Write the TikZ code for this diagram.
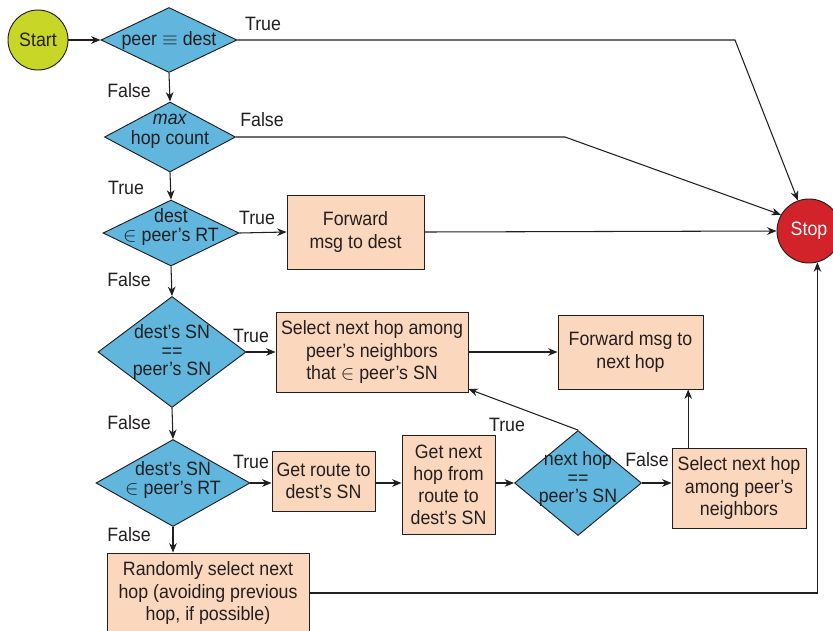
\documentclass[tikz,border=0pt]{standalone}
\usepackage{fontspec}
\setmainfont{Liberation Sans}[FakeStretch=0.92]
\usepackage{xcolor}
\usetikzlibrary{arrows.meta, shapes.geometric, calc, positioning}

\definecolor{ink}{RGB}{35,31,32}
\definecolor{decblue}{RGB}{97,182,222}
\definecolor{actpeach}{RGB}{251,215,190}
\definecolor{startgreen}{RGB}{200,214,40}
\definecolor{stopred}{RGB}{210,35,42}

\newcommand{\pxu}{0.03cm}

\tikzset{
  dec/.style={diamond, draw=ink, fill=decblue, line width=0.8pt, inner sep=0pt},
  act/.style={rectangle, draw=ink, fill=actpeach, line width=0.8pt, inner sep=0pt,
    align=center, font=\fontsize{16.5}{18.8}\selectfont},
  term/.style={circle, draw=ink, line width=0.8pt, inner sep=0pt},
  cond/.style={inner sep=0pt},
  arr/.style={draw=ink, line width=0.9pt, -{Stealth[length=8pt, width=6.5pt, inset=2.5pt]}}
}

\begin{document}
\begin{tikzpicture}[x=0.03cm, y=-0.03cm, font=\fontsize{16.5}{17}\selectfont, text=ink]
    \useasboundingbox (0,0) rectangle (833,630);

    \node[term, fill=startgreen, minimum size=60*\pxu] (start) at (38,40) {Start};
    \node[term, fill=stopred, text=white, minimum size=64*\pxu] (stop) at (809,231) {Stop};

    \node[dec, minimum width=136*\pxu, minimum height=65*\pxu, label=center:{peer $\equiv$ dest}] (same) at (169,40) {};
    \node[dec, minimum width=131*\pxu, minimum height=70*\pxu, label={[align=center, yshift=6*\pxu]center:{\textit{max}\\hop count}}] (maxhop) at (170,137) {};
    \node[dec, minimum width=136*\pxu, minimum height=66*\pxu, label={[align=center, yshift=6*\pxu]center:{dest\\$\in$ peer’s RT}}] (inrt) at (171,233) {};
    \node[dec, minimum width=148*\pxu, minimum height=111*\pxu, label={[align=center]center:{dest’s SN\\[-1pt]==\\[-1pt]peer’s SN}}] (samesn) at (172,352) {};
    \node[dec, minimum width=154*\pxu, minimum height=87*\pxu, label={[align=center, yshift=3*\pxu]center:{dest’s SN\\$\in$ peer’s RT}}] (snrt) at (173,483) {};
    \node[dec, minimum width=127*\pxu, minimum height=105*\pxu, label={[align=center, yshift=4*\pxu]center:{next hop\\[-1pt]==\\[-1pt]peer’s SN}}] (hopsn) at (578,483) {};

    \node[act, minimum width=137*\pxu, minimum height=74*\pxu] (fwddest) at (355.5,232) {Forward\\msg to dest};
    \node[act, minimum width=192*\pxu, minimum height=80*\pxu] (selsn) at (372,352) {Select next hop among\\peer’s neighbors\\that $\in$ peer’s SN};
    \node[act, minimum width=145*\pxu, minimum height=74*\pxu] (fwdnext) at (630.5,352) {Forward msg to\\next hop};
    \node[act, minimum width=134*\pxu, minimum height=80*\pxu] (selnbr) at (739,488) {Select next hop\\among peer’s\\neighbors};
    \node[act, minimum width=103*\pxu, minimum height=60*\pxu] (getroute) at (323.5,481) {Get route to\\dest’s SN};
    \node[act, minimum width=93*\pxu, minimum height=99*\pxu] (gethop) at (448.5,484.5) {Get next\\hop from\\route to\\dest’s SN};
    \node[act, minimum width=202*\pxu, minimum height=80*\pxu] (rnd) at (208,593) {Randomly select next\\hop (avoiding previous\\hop, if possible)};

    \coordinate (bendA) at (735,40);
    \coordinate (bendB) at (565,137);

    % conditions
    \node[cond] (c1) at (263,24) {True};
    \node[cond] (c2) at (129,91) {False};
    \node[cond] (c3) at (262,120) {False};
    \node[cond] (c4) at (126,188) {True};
    \node[cond] (c5) at (257,218) {True};
    \node[cond] (c6) at (129,280) {False};
    \node[cond] (c7) at (251,336) {True};
    \node[cond] (c8) at (129,423) {False};
    \node[cond] (c9) at (251,462) {True};
    \node[cond] (c10) at (129,535) {False};
    \node[cond] (c11) at (507,425) {True};
    \node[cond] (c12) at (647,460) {False};

    \draw[arr] (start) -- (same.west);
    \draw[arr] (same.east) -- (bendA) -- (stop.110);
    \draw[arr] (same.south) -- (maxhop.north);
    \draw[arr] (maxhop.east) -- (bendB) -- (stop.150);
    \draw[arr] (maxhop.south) -- (inrt.north);
    \draw[arr] (inrt.east) -- (fwddest.west);
    \draw[arr] (fwddest.east) -- (stop.west);
    \draw[arr] (inrt.south) -- (samesn.north);
    \draw[arr] (samesn.east) -- (selsn.west);
    \draw[arr] (selsn.east) -- (fwdnext.west);
    \draw[arr] (samesn.south) -- (snrt.north);
    \draw[arr] (snrt.east) -- (snrt.east -| getroute.west);
    \draw[arr] (getroute.east |- snrt.east) -- (snrt.east -| gethop.west);
    \draw[arr] (gethop.east |- hopsn.west) -- (hopsn.west);
    \draw[arr] (hopsn.north) -- (selsn.-21);
    \draw[arr] (hopsn.east) -- (hopsn.east -| selnbr.west);
    \draw[arr] (selnbr.north -| fwdnext.-33) -- (fwdnext.-33);
    \draw[arr] (snrt.south) -- (snrt.south |- rnd.north);
    \draw[arr] (rnd.east) -| (stop.-75);
\end{tikzpicture}
\end{document}
